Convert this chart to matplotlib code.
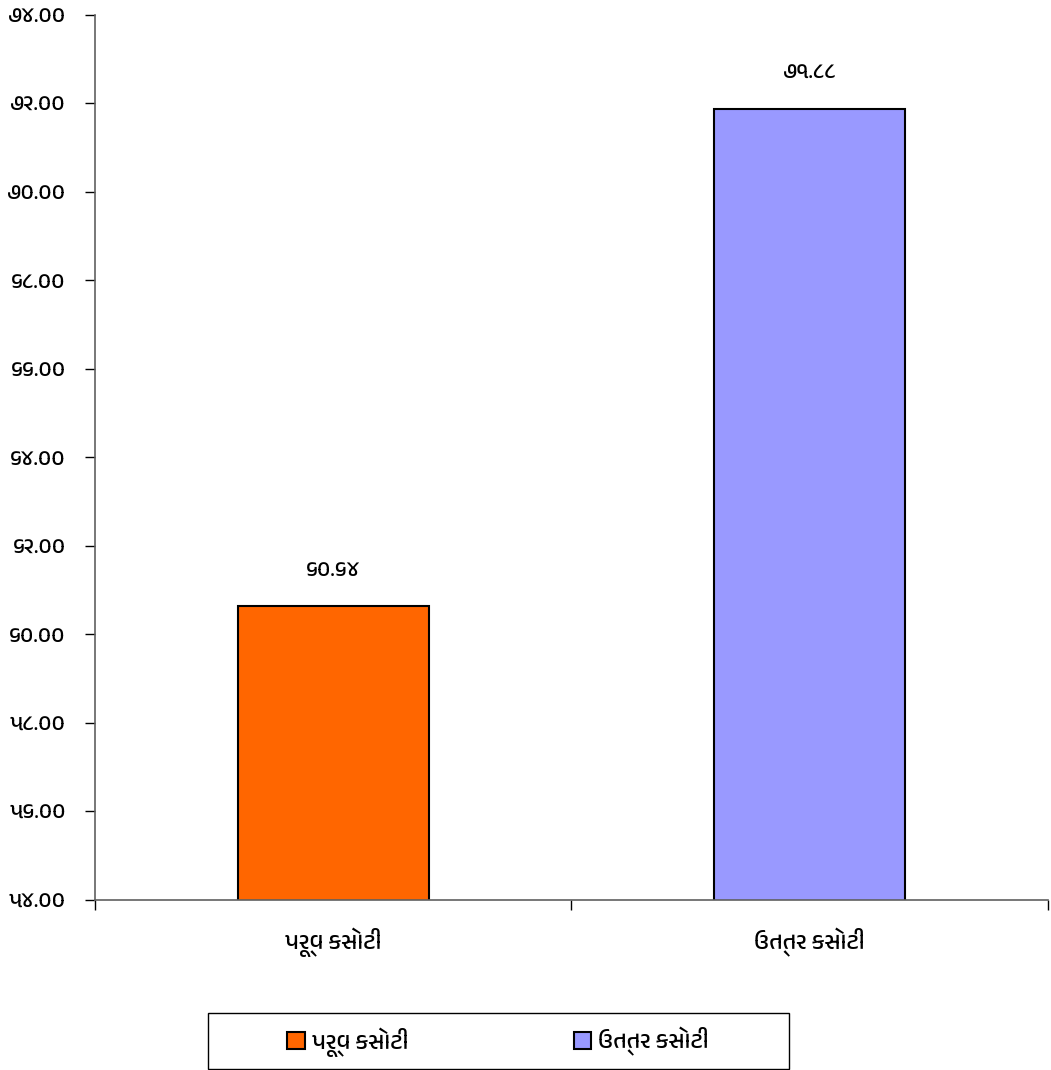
import matplotlib
matplotlib.use("Agg")
import matplotlib.pyplot as plt
from matplotlib import font_manager
from matplotlib.patches import Patch, Rectangle

# data
categories = ["પૂર્વ કસોટી", "ઉત્તર કસોટી"]
values = [60.64, 71.88]
colors = ["#FF6600", "#9999FF"]
yticks = [54, 56, 58, 60, 62, 64, 66, 68, 70, 72, 74]

# Gujarati digits
guj = str.maketrans("0123456789", "૦૧૨૩૪૫૬૭૮૯")

def gfmt(v):
    return f"{v:.2f}".translate(guj)

# pick a font with Gujarati glyphs if one exists
fams = sorted({f.name for f in font_manager.fontManager.ttflist if "Gujarati" in f.name})
plt.rcParams["font.family"] = fams + ["DejaVu Sans"]

fig = plt.figure(figsize=(10.51, 10.7), dpi=100)
ax = fig.add_axes([0.0904, 0.1589, 0.9066, 0.8271])

x = [0, 1]
ax.bar(x, values, width=0.4, bottom=0, color=colors, edgecolor="black", linewidth=1.5, zorder=2)
ax.set_ylim(54, 74)
ax.set_xlim(-0.5, 1.5)

for xi, v in zip(x, values):
    ax.text(xi, v + 0.6, gfmt(v), ha="center", va="bottom", fontsize=16)

ax.set_yticks(yticks)
ax.set_yticklabels([gfmt(t) for t in yticks], fontsize=16)
ax.tick_params(axis="y", direction="out", length=7, width=1, color="black", pad=14)

ax.set_xticks([-0.5, 0.5, 1.5])
ax.set_xticklabels(["", "", ""])
ax.set_xticks(x, minor=True)
ax.set_xticklabels(categories, minor=True, fontsize=17)
ax.tick_params(axis="x", which="major", direction="out", length=7, width=1, color="black")
ax.tick_params(axis="x", which="minor", length=0, pad=20)

for s in ["top", "right"]:
    ax.spines[s].set_visible(False)
for s in ["left", "bottom"]:
    ax.spines[s].set_color("#606060")
    ax.spines[s].set_linewidth(1.2)

# legend frame drawn by hand, entries in a frameless legend
fig.patches.append(Rectangle((208 / 1051, 1 - 1069 / 1070), 581 / 1051, 56 / 1070,
                             transform=fig.transFigure, fill=False, edgecolor="black", linewidth=1))
handles = [Patch(facecolor=c, edgecolor="black", linewidth=1.5) for c in colors]
fig.legend(handles, categories, loc="center", bbox_to_anchor=(498 / 1051, 1 - 1042 / 1070),
           ncol=2, fontsize=17, frameon=False, handlelength=0.75, handleheight=0.75,
           handletextpad=0.3, columnspacing=7.0)

fig.savefig("out.png", dpi=100)
